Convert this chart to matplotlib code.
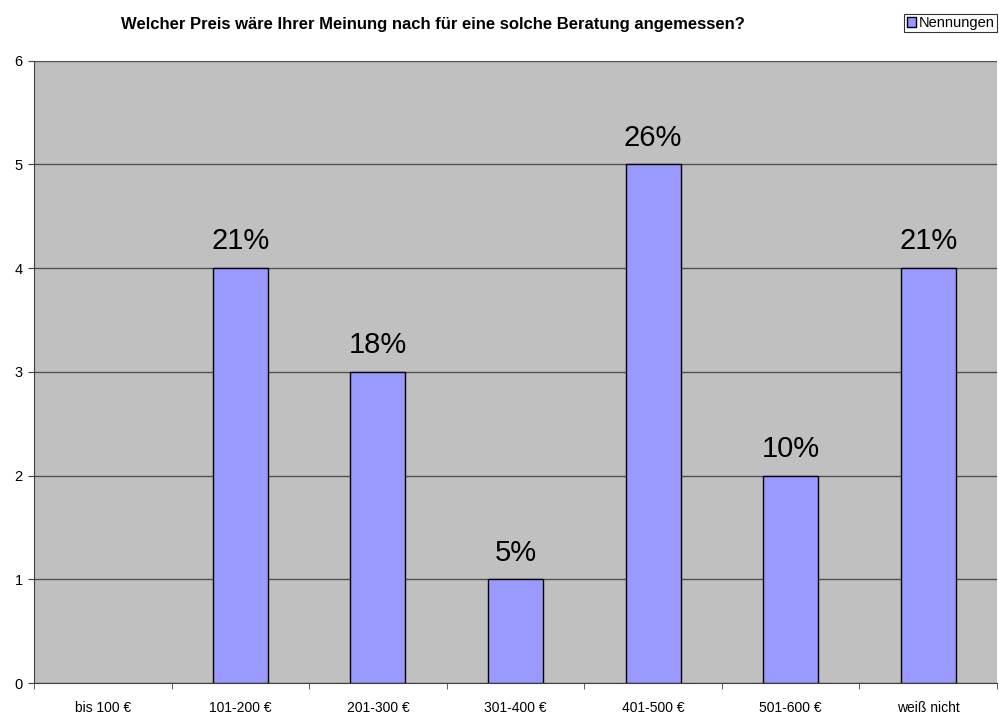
import matplotlib.pyplot as plt
from matplotlib.patches import Patch
import numpy as np

categories = ['bis 100 €', '101-200 €', '201-300 €', '301-400 €', '401-500 €', '501-600 €', 'weiß nicht']
nennungen = [0, 4, 3, 1, 5, 2, 4]
prozent = ['', '21%', '18%', '5%', '26%', '10%', '21%']

plt.rcParams['font.family'] = ['Liberation Sans', 'DejaVu Sans']

fig = plt.figure(figsize=(9.99, 7.17), dpi=100)
ax = fig.add_axes([0.034, 0.0474, 0.964, 0.868])

x = np.arange(len(categories))
ax.set_facecolor('#c0c0c0')
ax.set_axisbelow(True)
ax.yaxis.grid(True, color='#505050', linewidth=1)
bars = ax.bar(x, nennungen, width=0.4, color='#9999ff', edgecolor='black', linewidth=1,
              zorder=3)
# no outline for empty categories
for b, v in zip(bars, nennungen):
    if v == 0:
        b.set_visible(False)

for xi, v, p in zip(x, nennungen, prozent):
    if p:
        ax.text(xi, v + 0.18, p, ha='center', va='baseline', fontsize=21)

ax.set_xlim(-0.5, len(categories) - 0.5)
ax.set_ylim(0, 6)
ax.set_yticks(range(7))
ax.set_xticks(x)
ax.set_xticklabels(categories, fontsize=10)
ax.set_xticks(np.arange(-0.5, len(categories)), minor=True)
ax.tick_params(axis='x', which='major', length=0, pad=13)
ax.tick_params(axis='x', which='minor', length=4, direction='out', color='#404040')
ax.tick_params(axis='y', labelsize=10.5, length=4, direction='out', color='#404040', pad=4)

for side in ['top', 'right']:
    ax.spines[side].set_visible(False)
for side in ['left', 'bottom']:
    ax.spines[side].set_color('#404040')

fig.text(0.433, 0.966, 'Welcher Preis wäre Ihrer Meinung nach für eine solche Beratung angemessen?',
         ha='center', va='center', fontsize=12, fontweight='bold')

handle = Patch(facecolor='#9999ff', edgecolor='black', linewidth=1)
leg = fig.legend(handles=[handle], labels=['Nennungen'], loc='upper right',
                 bbox_to_anchor=(0.998, 0.981), fontsize=10.5, frameon=True, fancybox=False,
                 handlelength=0.65, handleheight=0.65, handletextpad=0.2, borderpad=0.15,
                 borderaxespad=0)
leg.get_frame().set_edgecolor('black')
leg.get_frame().set_linewidth(0.8)

fig.savefig('out.png', dpi=100)
